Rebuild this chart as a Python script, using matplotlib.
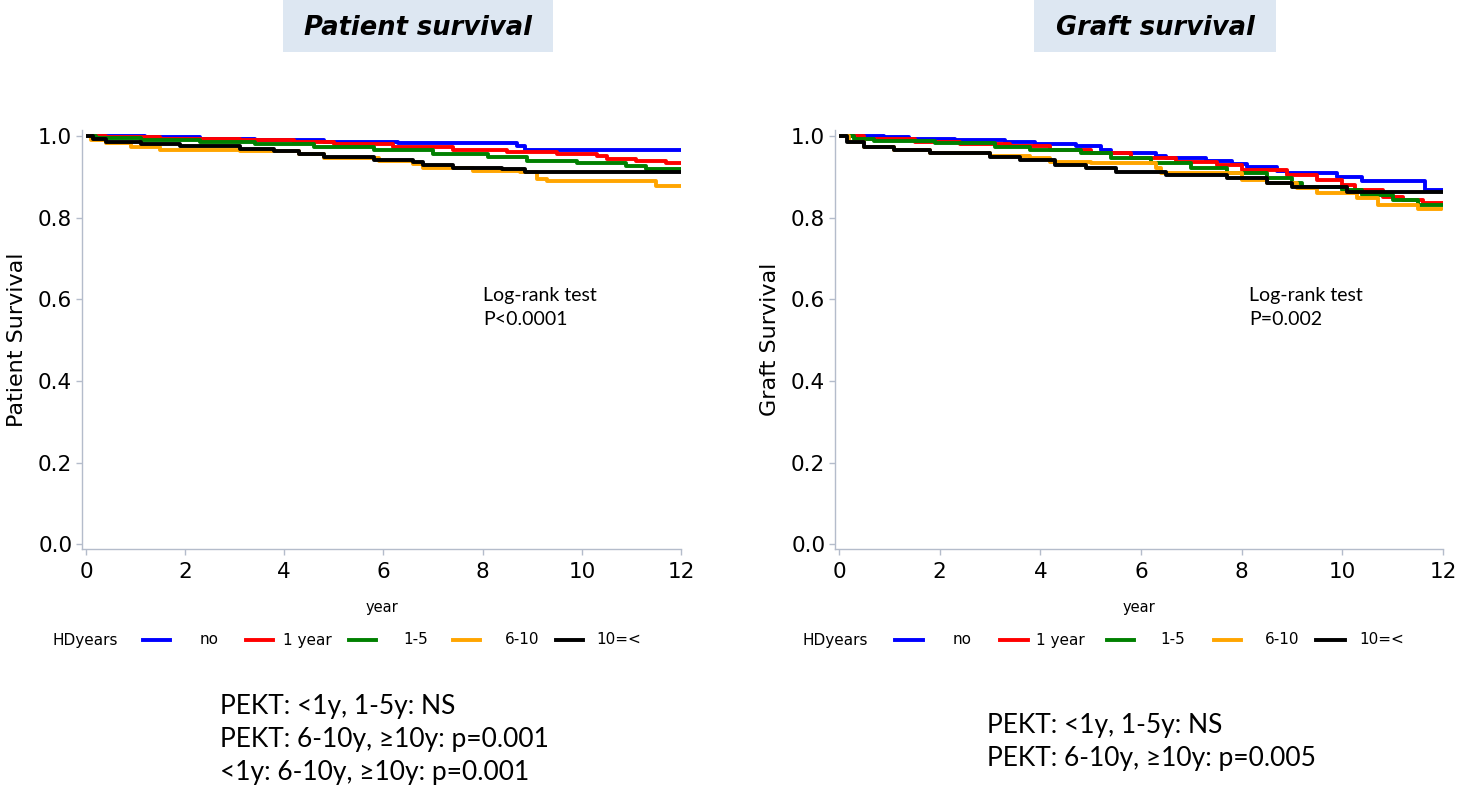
import matplotlib
matplotlib.use("Agg")
import matplotlib.pyplot as plt
from matplotlib.patches import Rectangle
from matplotlib.lines import Line2D

# ---------------- data ----------------
groups = ["no", "1 year", "1-5", "6-10", "10=<"]
colors = ["#0000ff", "#ff0000", "#008000", "#ffa500", "#000000"]
yticks = [0.0, 0.2, 0.4, 0.6, 0.8, 1.0]
xticks = [0, 2, 4, 6, 8, 10, 12]

# Patient survival
pt_no_t = [0, 1.2, 2.3, 3.4, 4.8, 6.3, 8.7, 8.85, 12]
pt_no_s = [1.0, 0.997, 0.994, 0.99, 0.986, 0.982, 0.975, 0.967, 0.967]
pt_1y_t = [0, 0.4, 1.5, 3.1, 4.2, 5.0, 6.2, 7.4, 8.5, 9.5, 10.3, 10.5, 11.1, 11.7, 12]
pt_1y_s = [1.0, 0.997, 0.994, 0.99, 0.986, 0.98, 0.973, 0.965, 0.961, 0.957, 0.952, 0.944, 0.94, 0.934, 0.934]
pt_15_t = [0, 0.2, 1.1, 2.3, 3.4, 4.6, 5.8, 7.0, 8.1, 8.9, 9.9, 10.9, 11.3, 12]
pt_15_s = [1.0, 0.995, 0.99, 0.986, 0.98, 0.973, 0.965, 0.957, 0.948, 0.94, 0.933, 0.927, 0.919, 0.915]
pt_610_t = [0, 0.1, 0.4, 0.9, 1.5, 3.1, 4.3, 4.8, 5.9, 6.6, 6.8, 7.8, 8.75, 9.1, 9.3, 11.5, 12]
pt_610_s = [1.0, 0.99, 0.982, 0.973, 0.967, 0.963, 0.957, 0.947, 0.94, 0.932, 0.923, 0.915, 0.911, 0.894, 0.89, 0.878, 0.878]
pt_10_t = [0, 0.15, 0.4, 1.1, 1.9, 3.1, 3.8, 4.3, 4.8, 5.8, 6.6, 6.8, 7.4, 8.4, 8.85, 12]
pt_10_s = [1.0, 0.992, 0.986, 0.98, 0.975, 0.969, 0.963, 0.957, 0.948, 0.942, 0.936, 0.928, 0.923, 0.919, 0.911, 0.911]

# Graft survival
gr_no_t = [0, 0.9, 1.4, 2.3, 3.3, 3.9, 4.7, 5.2, 5.4, 6.3, 6.5, 7.3, 7.8, 8.1, 8.7, 8.9, 9.9, 10.4, 11.65, 12]
gr_no_s = [1.0, 0.997, 0.994, 0.99, 0.986, 0.98, 0.976, 0.966, 0.958, 0.951, 0.946, 0.939, 0.931, 0.925, 0.915, 0.909, 0.9, 0.889, 0.868, 0.868]
gr_1y_t = [0, 0.5, 1.5, 2.4, 3.4, 4.2, 5.0, 5.8, 6.7, 7.5, 8.0, 8.9, 9.5, 10.0, 10.25, 10.8, 11.2, 11.6, 12]
gr_1y_s = [1.0, 0.994, 0.986, 0.98, 0.976, 0.967, 0.958, 0.946, 0.937, 0.929, 0.917, 0.905, 0.893, 0.88, 0.868, 0.852, 0.844, 0.836, 0.834]
gr_15_t = [0, 0.3, 0.7, 1.9, 3.1, 3.8, 4.8, 5.4, 6.2, 7.0, 7.7, 8.5, 9.0, 9.2, 10.0, 10.4, 11.0, 11.5, 12]
gr_15_s = [1.0, 0.994, 0.989, 0.982, 0.974, 0.966, 0.958, 0.946, 0.933, 0.921, 0.909, 0.897, 0.885, 0.876, 0.868, 0.856, 0.844, 0.832, 0.83]
gr_610_t = [0, 0.2, 0.5, 1.1, 1.8, 3.0, 3.8, 4.2, 5.0, 6.3, 6.4, 8.0, 8.5, 9.1, 9.5, 10.3, 10.7, 11.5, 12]
gr_610_s = [1.0, 0.986, 0.974, 0.966, 0.958, 0.951, 0.946, 0.937, 0.933, 0.921, 0.909, 0.893, 0.885, 0.872, 0.86, 0.848, 0.832, 0.822, 0.818]
gr_10_t = [0, 0.15, 0.5, 1.1, 1.8, 3.0, 3.6, 4.3, 4.9, 5.5, 6.5, 7.7, 8.5, 9.0, 10.1, 12]
gr_10_s = [1.0, 0.986, 0.974, 0.966, 0.958, 0.95, 0.941, 0.929, 0.921, 0.913, 0.905, 0.897, 0.885, 0.876, 0.864, 0.864]

patient_curves = [(pt_no_t, pt_no_s), (pt_1y_t, pt_1y_s), (pt_15_t, pt_15_s),
                  (pt_610_t, pt_610_s), (pt_10_t, pt_10_s)]
graft_curves = [(gr_no_t, gr_no_s), (gr_1y_t, gr_1y_s), (gr_15_t, gr_15_s),
                (gr_610_t, gr_610_s), (gr_10_t, gr_10_s)]

panel_titles = ["Patient survival", "Graft survival"]
ylabels = ["Patient Survival", "Graft Survival"]
logrank = ["Log-rank test\nP<0.0001", "Log-rank test\nP=0.002"]
notes = ["PEKT: <1y, 1-5y: NS\nPEKT: 6-10y, \u226510y: p=0.001\n<1y: 6-10y, \u226510y: p=0.001",
         "PEKT: <1y, 1-5y: NS\nPEKT: 6-10y, \u226510y: p=0.005"]

# ---------------- figure ----------------
W, H = 1460, 795
fig = plt.figure(figsize=(W / 100, H / 100), dpi=100)

def fx(px):
    return px / W

def fy(py):
    return 1 - py / H

spine_col = "#b4bccb"
axes_px = [(82, 681), (835, 1443)]
ax_top, ax_bot = 130, 549
title_boxes = [(283, 553), (1034, 1276)]
legend_x = [
    dict(head=52, lines=[(143, 170), (246, 273), (349, 376), (453, 480), (556, 583)],
         labels=[(209, 'c'), (283, 'l'), (416, 'c'), (522, 'c'), (596, 'l')]),
    dict(head=802, lines=[(895, 923), (1000, 1028), (1107, 1134), (1214, 1241), (1316, 1345)],
         labels=[(962, 'c'), (1036, 'l'), (1173, 'c'), (1282, 'c'), (1359, 'l')]),
]
logrank_pos = [(483, 287), (1249, 287)]
notes_pos = [(220, 694), (987, 713)]

for i, curves in enumerate([patient_curves, graft_curves]):
    x0, x1 = axes_px[i]
    ax = fig.add_axes([fx(x0), fy(ax_bot), fx(x1 - x0), (ax_bot - ax_top) / H])
    for (t, s), c in zip(curves, colors):
        ax.step(t, s, where="post", color=c, lw=2.8, solid_capstyle="butt")
    ax.set_xlim(-0.08, 12)
    ax.set_ylim(-0.012, 1.015)
    ax.set_xticks(xticks)
    ax.set_yticks(yticks)
    ax.set_yticklabels([f"{v:.1f}" for v in yticks])
    for side in ["top", "right"]:
        ax.spines[side].set_visible(False)
    for side in ["left", "bottom"]:
        ax.spines[side].set_color(spine_col)
        ax.spines[side].set_linewidth(1.0)
    ax.tick_params(colors=spine_col, labelcolor="black", labelsize=15.5, length=4, width=1)
    ax.tick_params(axis="x", pad=5)
    ax.tick_params(axis="y", pad=3)
    ax.set_ylabel(ylabels[i], fontsize=16, labelpad=8)
    ax.set_xlabel("year", fontsize=10.5, labelpad=13)
    ax.set_facecolor("none")

    # title box
    bx0, bx1 = title_boxes[i]
    fig.patches.append(Rectangle((fx(bx0), fy(52)), fx(bx1 - bx0), 52 / H,
                                 transform=fig.transFigure, facecolor="#dde7f2",
                                 edgecolor="none", zorder=0))
    fig.text(fx((bx0 + bx1) / 2), fy(28), panel_titles[i], ha="center", va="center",
             fontsize=18.5, fontweight="bold", style="italic", family=["DejaVu Sans"])

    # log-rank text
    lx, ly = logrank_pos[i]
    fig.text(fx(lx), fy(ly), logrank[i], ha="left", va="top", fontsize=14,
             family=["Lato", "DejaVu Sans"], linespacing=1.5)

    # legend
    lg = legend_x[i]
    ly_leg = 640
    fig.text(fx(lg["head"]), fy(ly_leg), "HDyears", ha="left", va="center", fontsize=11)
    for (a, b), c, g, (tx, al) in zip(lg["lines"], colors, groups, lg["labels"]):
        fig.add_artist(Line2D([fx(a), fx(b)], [fy(ly_leg), fy(ly_leg)], color=c, lw=2.8,
                              transform=fig.transFigure))
        fig.text(fx(tx), fy(ly_leg), g, ha="center" if al == "c" else "left", va="center",
                 fontsize=11)

    # notes
    nx, ny = notes_pos[i]
    fig.text(fx(nx), fy(ny), notes[i], ha="left", va="top", fontsize=19,
             family=["Lato", "DejaVu Sans"], linespacing=1.4)

fig.savefig("out.png", dpi=100, facecolor="white")
